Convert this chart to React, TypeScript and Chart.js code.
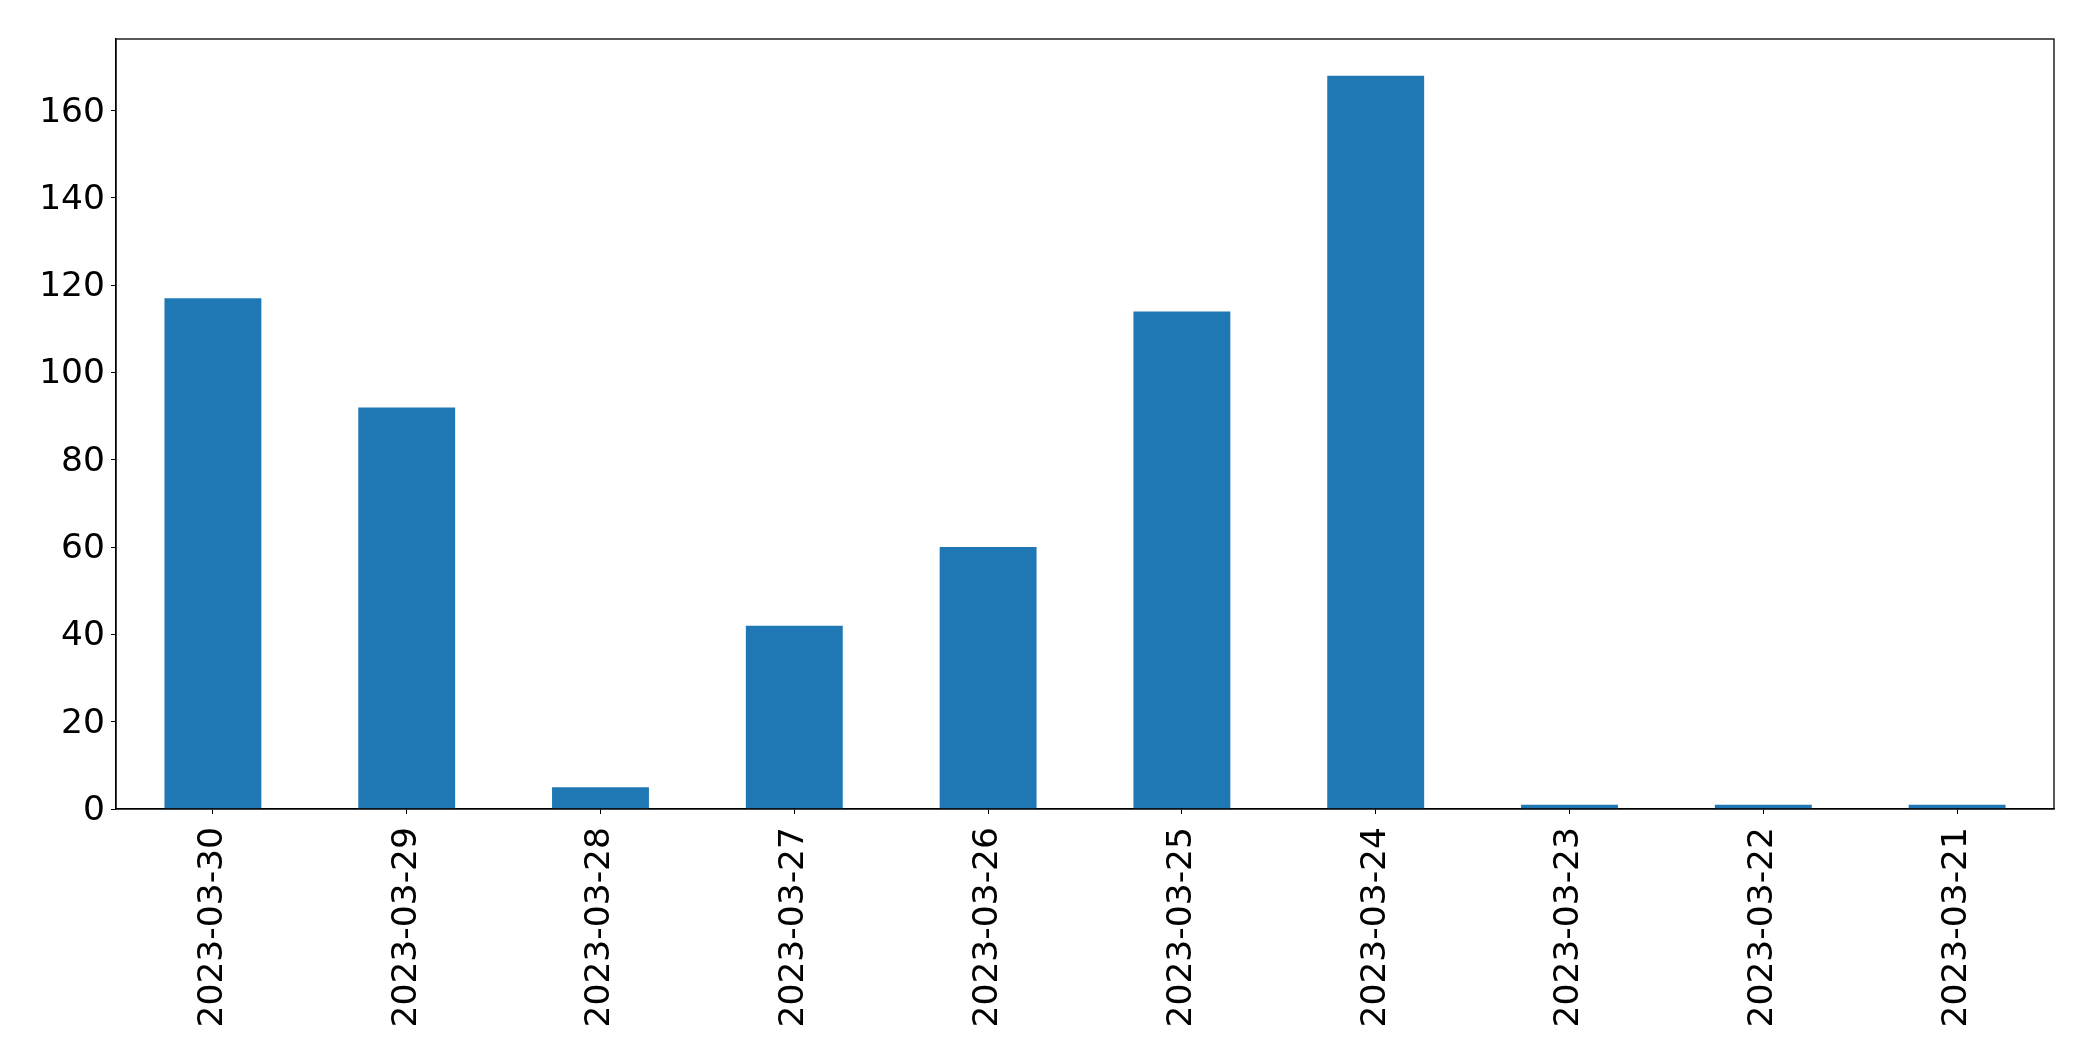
import React, { useEffect, useRef } from "react";
import { Chart, registerables } from "chart.js";

Chart.register(...registerables);

const categories = [
  "2023-03-30",
  "2023-03-29",
  "2023-03-28",
  "2023-03-27",
  "2023-03-26",
  "2023-03-25",
  "2023-03-24",
  "2023-03-23",
  "2023-03-22",
  "2023-03-21",
];
const counts = [117, 92, 5, 42, 60, 114, 168, 1, 1, 1];
const yTickStep = 20;
const yMax = 176.4;

const W = 2093;
const H = 1061;

const framePlugin = {
  id: "frame",
  afterDraw(chart: any) {
    const { ctx, chartArea } = chart;
    ctx.save();
    ctx.strokeStyle = "#000";
    ctx.lineWidth = 1.3;
    ctx.strokeRect(chartArea.left, chartArea.top, chartArea.right - chartArea.left, chartArea.bottom - chartArea.top);
    ctx.restore();
  },
};

export default function App() {
  const ref = useRef<HTMLCanvasElement | null>(null);
  useEffect(() => {
    document.body.style.margin = "0";
    const canvas = ref.current!;
    const font = { family: "'DejaVu Sans', sans-serif", size: 34.5 };
    const chart = new Chart(canvas, {
      type: "bar",
      data: {
        labels: categories,
        datasets: [
          {
            data: counts,
            backgroundColor: "#1f77b4",
            borderWidth: 0,
            barPercentage: 0.5,
            categoryPercentage: 1,
          },
        ],
      },
      options: {
        responsive: false,
        animation: false,
        devicePixelRatio: 1,
        layout: { padding: { top: 39, right: 39, left: 0, bottom: 0 } },
        plugins: { legend: { display: false }, tooltip: { enabled: false } },
        scales: {
          x: {
            offset: true,
            grid: { display: true, drawOnChartArea: false, drawTicks: true, tickLength: 5, color: "#000", offset: false },
            border: { display: true, color: "#000", width: 1.3 },
            ticks: { color: "#000", font, minRotation: 90, maxRotation: 90, autoSkip: false, padding: 13 },
            afterFit(scale: any) {
              scale.height = H - 809;
            },
          },
          y: {
            min: 0,
            max: yMax,
            grid: { display: true, drawOnChartArea: false, drawTicks: true, tickLength: 5, color: "#000" },
            border: { display: true, color: "#000", width: 1.3 },
            ticks: { color: "#000", font, stepSize: yTickStep, includeBounds: false, padding: 6, labelOffset: 2 },
            afterFit(scale: any) {
              scale.width = 116;
            },
          },
        },
      },
      plugins: [framePlugin],
    } as any);
    return () => chart.destroy();
  }, []);
  return (
    <div style={{ position: "absolute", left: 0, top: 0, width: W, height: H, background: "#fff" }}>
      <canvas ref={ref} width={W} height={H} style={{ width: W, height: H, display: "block" }} />
    </div>
  );
}
